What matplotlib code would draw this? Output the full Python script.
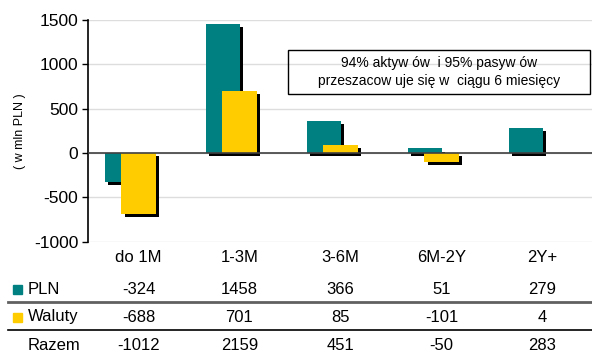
import matplotlib.pyplot as plt
import numpy as np
from matplotlib.patches import Rectangle
from matplotlib.transforms import blended_transform_factory

CATEGORIES = ["do 1M", "1-3M", "3-6M", "6M-2Y", "2Y+"]
PLN = [-324, 1458, 366, 51, 279]
WALUTY = [-688, 701, 85, -101, 4]
RAZEM = [-1012, 2159, 451, -50, 283]
ROW_NAMES = ["PLN", "Waluty", "Razem"]
NOTE = "94% aktyw ów  i 95% pasyw ów\nprzeszacow uje się w  ciągu 6 miesięcy"

TEAL = "#008080"
YELLOW = "#FFCC00"

plt.rcParams['font.family'] = ['Liberation Sans', 'DejaVu Sans']
plt.rcParams['axes.unicode_minus'] = False

W, H = 592, 352
fig = plt.figure(figsize=(W / 100, H / 100), dpi=100)
ax = fig.add_axes([88 / W, 1 - 241.7 / H, (593 - 88) / W, (241.7 - 20) / H])

x = np.arange(len(CATEGORIES))
bw = 0.337
dx = 0.03      # shadow offset, data units (~3 px)
dy = 34        # shadow offset, value units (~3 px)

ax.bar(x - 0.163 + dx, PLN, bw, bottom=-dy, color="black", zorder=2)
ax.bar(x - 0.163, PLN, bw, color=TEAL, zorder=3)
ax.bar(x + dx, WALUTY, bw, bottom=-dy, color="black", zorder=4)
ax.bar(x, WALUTY, bw, color=YELLOW, zorder=5)

ax.axhline(0, color="#404040", lw=1.2, zorder=6)

ax.set_xlim(-0.5, 4.5)
ax.set_ylim(-1000, 1500)
ax.set_yticks(range(-1000, 1501, 500))
ax.yaxis.grid(True, color="#dddddd", lw=1)
ax.set_axisbelow(True)
ax.set_xticks([])
for s in ["top", "right", "bottom"]:
    ax.spines[s].set_visible(False)
ax.spines["left"].set_linewidth(1.2)
ax.tick_params(axis="y", direction="out", length=4, width=1, labelsize=12.5, pad=3)
ax.set_ylabel("( w mln PLN )", fontsize=9, labelpad=6)

# note box
fig.patches.append(Rectangle((288 / W, 1 - 94 / H), (590 - 288) / W, 44 / H,
                             transform=fig.transFigure, fill=False,
                             edgecolor="black", lw=1))
fig.text(439 / W, 1 - 72 / H, NOTE, ha="center", va="center", fontsize=10,
         linespacing=1.45)

# table below chart
tr = blended_transform_factory(ax.transData, fig.transFigure)
fy = lambda py: 1 - py / H
for i, c in enumerate(CATEGORIES):
    ax.text(i, fy(257), c, transform=tr, ha="center", va="center", fontsize=12)
rows_y = [289, 317, 346]
for vals, py in zip([PLN, WALUTY, RAZEM], rows_y):
    for i, v in enumerate(vals):
        ax.text(i, fy(py), str(v), transform=tr, ha="center", va="center",
                fontsize=12, clip_on=False)
for name, py in zip(ROW_NAMES, rows_y):
    fig.text(28 / W, fy(py), name, ha="left", va="center", fontsize=12)
fig.patches.append(Rectangle((12.5 / W, fy(293.5)), 9 / W, 9 / H,
                             transform=fig.transFigure, color=TEAL))
fig.patches.append(Rectangle((12.5 / W, fy(321.5)), 9 / W, 9 / H,
                             transform=fig.transFigure, color=YELLOW))
fig.add_artist(plt.Line2D([8 / W, 1], [fy(302), fy(302)], color="#606060", lw=2))
fig.add_artist(plt.Line2D([8 / W, 1], [fy(330), fy(330)], color="black", lw=1.2))

fig.savefig("out.png", dpi=100)
